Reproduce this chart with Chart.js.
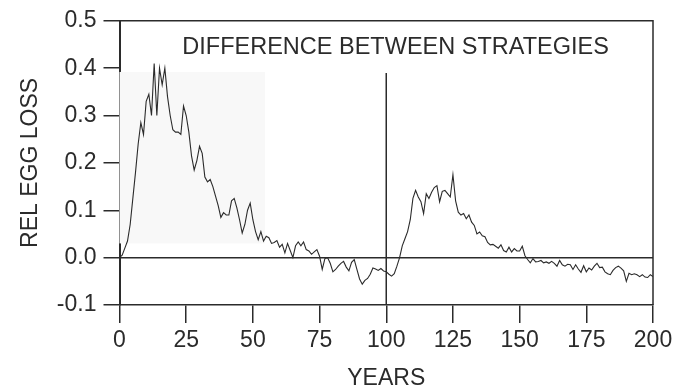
<!DOCTYPE html>
<html>
<head>
<meta charset="utf-8">
<script src="https://cdn.jsdelivr.net/npm/chart.js@4.4.1/dist/chart.umd.min.js"></script>
<style>
  html, body { margin: 0; padding: 0; background: #fff; }
  #wrap { width: 684px; height: 390px; }
</style>
</head>
<body>
<div id="wrap"><canvas id="eggChart" width="684" height="390"></canvas></div>
<script>
// years 0..200, one value per year
const years = [];
for (let y = 0; y <= 200; y++) years.push(y);

const eggLoss = [
  0.000, 0.005, 0.020, 0.035, 0.070, 0.125, 0.180, 0.240, 0.285, 0.260,
  0.330, 0.345, 0.300, 0.410, 0.300, 0.400, 0.365, 0.400, 0.340, 0.300,
  0.270, 0.265, 0.265, 0.260, 0.320, 0.300, 0.265, 0.215, 0.185, 0.205,
  0.235, 0.220, 0.170, 0.160, 0.165, 0.150, 0.130, 0.110, 0.085, 0.095,
  0.090, 0.090, 0.120, 0.125, 0.105, 0.080, 0.052, 0.070, 0.100, 0.115,
  0.080, 0.055, 0.038, 0.055, 0.035, 0.045, 0.042, 0.030, 0.032, 0.036,
  0.022, 0.028, 0.010, 0.030, 0.015, 0.000, 0.025, 0.033, 0.025, 0.033,
  0.017, 0.014, 0.007, 0.012, 0.017, 0.003, -0.025, -0.002, 0.000, -0.012,
  -0.030, -0.025, -0.018, -0.012, -0.008, -0.020, -0.028, -0.010, -0.004, -0.025,
  -0.045, -0.056, -0.048, -0.044, -0.035, -0.022, -0.024, -0.027, -0.023, -0.028,
  -0.030, -0.035, -0.039, -0.034, -0.018, 0.000, 0.025, 0.040, 0.055, 0.080,
  0.125, 0.142, 0.128, 0.118, 0.093, 0.135, 0.125, 0.138, 0.148, 0.152,
  0.118, 0.140, 0.142, 0.135, 0.128, 0.175, 0.120, 0.096, 0.090, 0.093,
  0.082, 0.090, 0.075, 0.068, 0.050, 0.054, 0.046, 0.044, 0.032, 0.027,
  0.028, 0.024, 0.020, 0.027, 0.015, 0.012, 0.022, 0.012, 0.019, 0.014,
  0.014, 0.024, 0.004, -0.004, -0.011, -0.002, -0.009, -0.008, -0.006, -0.011,
  -0.009, -0.012, -0.008, -0.012, -0.018, -0.006, -0.015, -0.018, -0.014, -0.015,
  -0.025, -0.015, -0.024, -0.031, -0.017, -0.030, -0.022, -0.026, -0.018, -0.012,
  -0.021, -0.020, -0.030, -0.034, -0.036, -0.027, -0.021, -0.018, -0.022, -0.028,
  -0.050, -0.033, -0.036, -0.034, -0.036, -0.040, -0.036, -0.041, -0.042, -0.036,
  -0.040
];

const xTicks = [0, 25, 50, 75, 100, 125, 150, 175, 200];
const yTicks = [-0.1, 0.0, 0.1, 0.2, 0.3, 0.4, 0.5];

const switchYear = 100;
const switchLineTop = 0.39;
const shadeBox = { x0: 0, x1: 54.5, y0: 0.03, y1: 0.392 };
const titleText = 'DIFFERENCE BETWEEN STRATEGIES';
const titleAt = { x: 103.5, y: 0.444 };

const INK = '#2b2b2b';
const FONT = '"Liberation Sans", Arial, sans-serif';

const framePlugin = {
    id: 'frame',
    beforeDatasetsDraw(chart) {
        const { ctx, chartArea: a, scales: { x, y } } = chart;
        ctx.save();
        // faint scan shading
        ctx.fillStyle = '#f8f8f8';
        const sx0 = x.getPixelForValue(shadeBox.x0), sx1 = x.getPixelForValue(shadeBox.x1);
        const sy0 = y.getPixelForValue(shadeBox.y1), sy1 = y.getPixelForValue(shadeBox.y0);
        ctx.fillRect(sx0, sy0, sx1 - sx0, sy1 - sy0);

        ctx.strokeStyle = INK;
        ctx.lineWidth = 1.5;
        // zero line
        const y0 = y.getPixelForValue(0);
        ctx.beginPath();
        ctx.moveTo(a.left, y0);
        ctx.lineTo(a.right, y0);
        ctx.stroke();
        // switch line
        const xs = x.getPixelForValue(switchYear);
        ctx.beginPath();
        ctx.moveTo(xs, y.getPixelForValue(switchLineTop));
        ctx.lineTo(xs, a.bottom);
        ctx.stroke();
        // top and right frame
        ctx.beginPath();
        ctx.moveTo(a.left, a.top);
        ctx.lineTo(a.right, a.top);
        ctx.lineTo(a.right, a.bottom);
        ctx.stroke();
        ctx.restore();
    },
    afterDatasetsDraw(chart) {
        const { ctx, scales: { x, y } } = chart;
        ctx.save();
        ctx.fillStyle = INK;
        ctx.font = '23.5px ' + FONT;
        ctx.textAlign = 'center';
        ctx.textBaseline = 'middle';
        ctx.fillText(titleText, x.getPixelForValue(titleAt.x), y.getPixelForValue(titleAt.y));
        ctx.restore();
    }
};

const ctx = document.getElementById('eggChart').getContext('2d');
new Chart(ctx, {
    type: 'line',
    data: {
        labels: years,
        datasets: [{
            data: eggLoss,
            borderColor: INK,
            borderWidth: 1.1,
            pointRadius: 0,
            tension: 0,
            fill: false
        }]
    },
    options: {
        responsive: false,
        animation: false,
        layout: { padding: { top: 18, right: 31, left: 0, bottom: 0 } },
        plugins: { legend: { display: false }, tooltip: { enabled: false } },
        scales: {
            x: {
                type: 'linear',
                min: 0,
                max: 200,
                afterFit: (s) => { s.height = 85; },
                afterBuildTicks: (s) => { s.ticks = xTicks.map(v => ({ value: v })); },
                ticks: { color: INK, font: { family: FONT, size: 23 }, padding: 4, maxRotation: 0 },
                grid: { drawOnChartArea: false, drawTicks: true, tickLength: 18, color: INK, lineWidth: 1.5 },
                border: { display: true, color: INK, width: 1.5 },
                title: { display: true, text: 'YEARS', color: INK, font: { family: FONT, size: 23, lineHeight: 1 }, padding: { top: 0, bottom: 0 } }
            },
            y: {
                min: -0.1,
                max: 0.5,
                afterFit: (s) => { s.width = 119.5; },
                afterBuildTicks: (s) => { s.ticks = yTicks.map(v => ({ value: v })); },
                ticks: { color: INK, font: { family: FONT, size: 23 }, padding: 7, callback: (v) => v.toFixed(1) },
                grid: { drawOnChartArea: false, drawTicks: true, tickLength: 16, color: INK, lineWidth: 1.5 },
                border: { display: true, color: INK, width: 2 },
                title: { display: true, text: 'REL EGG LOSS', color: INK, font: { family: FONT, size: 23, lineHeight: 1 }, padding: { top: 19, bottom: 0 } }
            }
        }
    },
    plugins: [framePlugin]
});
</script>
</body>
</html>
